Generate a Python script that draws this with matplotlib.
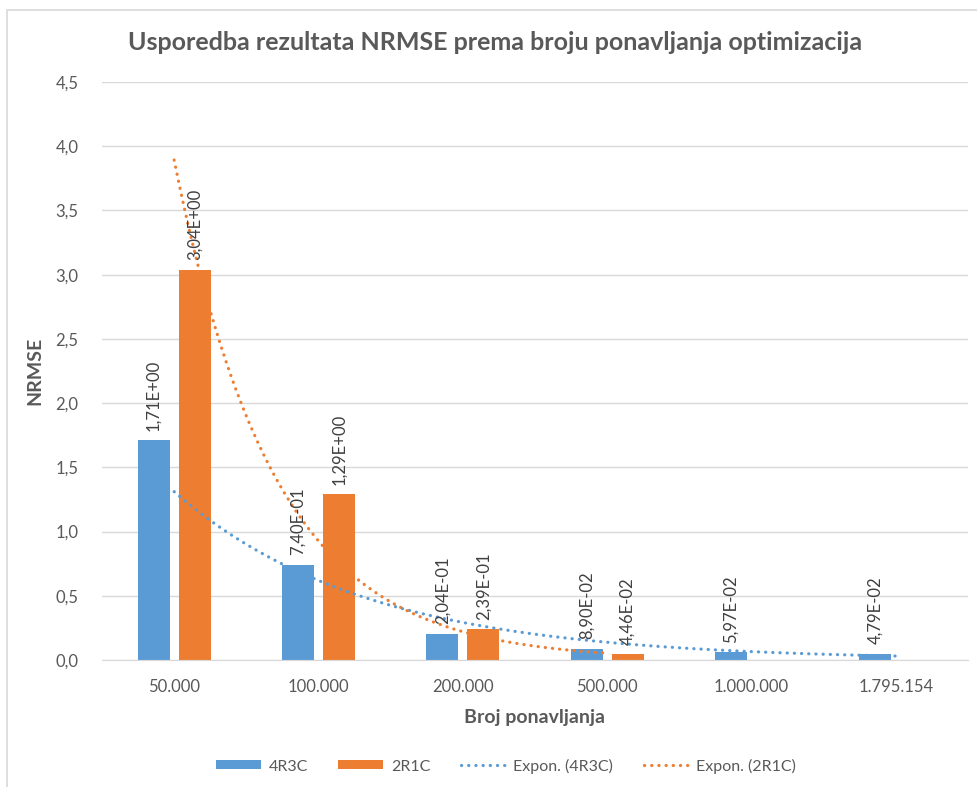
import numpy as np
import matplotlib.pyplot as plt
from matplotlib.patches import Rectangle

categories = ['50.000', '100.000', '200.000', '500.000', '1.000.000', '1.795.154']
nrmse_4r3c = [1.71, 0.740, 0.204, 0.0890, 0.0597, 0.0479]
nrmse_2r1c = [3.04, 1.29, 0.239, 0.0446]

blue = '#5B9BD5'
orange = '#ED7D31'
grey_txt = '#595959'
plt.rcParams['font.family'] = ['Lato', 'DejaVu Sans']

fig = plt.figure(figsize=(9.77, 7.87), dpi=100)
ax = fig.add_axes([102 / 977, 127 / 787, 866 / 977, 578 / 787])

# okvir oko grafikona
fig.patches.append(Rectangle((7 / 977, -0.1), 1.2, 1 - 10 / 787 + 0.1, transform=fig.transFigure,
                             fill=False, edgecolor='#D9D9D9', linewidth=1.2))

x = np.arange(len(categories))
w = 0.22
off = 0.142
b1 = ax.bar(x - off, nrmse_4r3c, w, color=blue, zorder=2)
b2 = ax.bar(x[:len(nrmse_2r1c)] + off, nrmse_2r1c, w, color=orange, zorder=2)


def fmt(v):
    return f'{v:.2E}'.replace('.', ',')


for bars, vals in ((b1, nrmse_4r3c), (b2, nrmse_2r1c)):
    for r, v in zip(bars, vals):
        ax.annotate(fmt(v), (r.get_x() + r.get_width() / 2, v), xytext=(0, 7),
                    textcoords='offset points', rotation=90, ha='center', va='bottom',
                    fontsize=12, color='#404040', zorder=4)


# eksponencijalni trend (kao u Excelu, x = 1..n)
def expon(vals):
    n = np.arange(1, len(vals) + 1)
    b, a = np.polyfit(n, np.log(vals), 1)
    xs = np.linspace(1, len(vals), 200)
    return xs - 1, np.exp(a) * np.exp(b * xs)


dots = (0, (0.05, 2.2))
tx, ty = expon(nrmse_4r3c)
l1, = ax.plot(tx, ty, color=blue, linewidth=2.3, linestyle=dots,
              dash_capstyle='round', zorder=3)
tx, ty = expon(nrmse_2r1c)
l2, = ax.plot(tx, ty, color=orange, linewidth=2.3, linestyle=dots,
              dash_capstyle='round', zorder=3)

ax.set_xlim(-0.5, len(categories) - 0.5)
ax.set_ylim(0, 4.5)
ax.set_yticks(np.arange(0, 4.51, 0.5))
ax.set_yticklabels([f'{t:.1f}'.replace('.', ',') for t in np.arange(0, 4.51, 0.5)])
ax.set_xticks(x)
ax.set_xticklabels(categories)
ax.tick_params(length=0, labelsize=12, colors=grey_txt, pad=17)
ax.tick_params(axis='x', pad=14)
ax.grid(axis='y', color='#D9D9D9', linewidth=1, zorder=0)
for s in ('top', 'right', 'left'):
    ax.spines[s].set_visible(False)
ax.spines['bottom'].set_color('#D9D9D9')

ax.set_xlabel('Broj ponavljanja', fontsize=14, fontweight='bold', color=grey_txt, labelpad=10)
ax.set_ylabel('NRMSE', fontsize=14, fontweight='bold', color=grey_txt, labelpad=9)
fig.text(495 / 977, 1 - 43 / 787, 'Usporedba rezultata NRMSE prema broju ponavljanja optimizacija',
         ha='center', va='center', fontsize=18, fontweight='bold', color=grey_txt)

fig.legend([b1, b2, l1, l2], ['4R3C', '2R1C', 'Expon. (4R3C)', 'Expon. (2R1C)'],
           loc='center', bbox_to_anchor=(506 / 977, 1 - 766 / 787), ncol=4, frameon=False,
           fontsize=11.5, labelcolor=grey_txt, handlelength=2.8, handleheight=0.5,
           columnspacing=1.9, handletextpad=0.5)

fig.savefig('out.png', dpi=100, facecolor='white')
